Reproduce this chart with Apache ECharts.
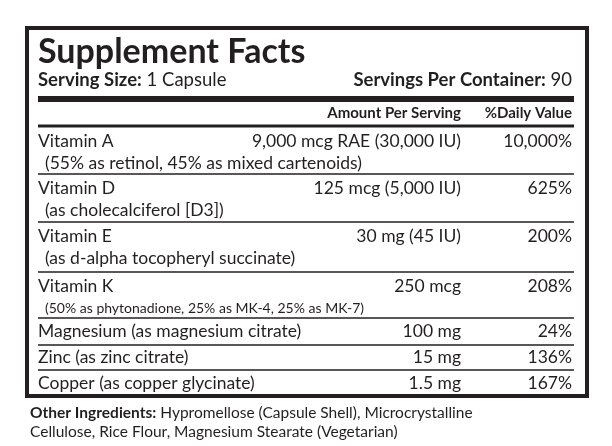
<!DOCTYPE html><html><head><meta charset="utf-8">
<script src="https://cdn.jsdelivr.net/npm/echarts@6/dist/echarts.min.js"></script>
<style>html,body{margin:0;background:#fff}#c{width:612px;height:446px}</style></head><body><div id="c"></div>
<script>
const title = "Supplement Facts";
const servingSize = ["Serving Size:", " 1 Capsule"];
const servingsPer = ["Servings Per Container:", " 90"];
const headers = ["Amount Per Serving", "%Daily Value"];
const nutrients = ["Vitamin A", "Vitamin D", "Vitamin E", "Vitamin K", "Magnesium (as magnesium citrate)", "Zinc (as zinc citrate)", "Copper (as copper glycinate)"];
const subtexts = ["(55% as retinol, 45% as mixed cartenoids)", "(as cholecalciferol [D3])", "(as d-alpha tocopheryl succinate)", "(50% as phytonadione, 25% as MK-4, 25% as MK-7)", "", "", ""];
const amounts = ["9,000 mcg RAE (30,000 IU)", "125 mcg (5,000 IU)", "30 mg (45 IU)", "250 mcg", "100 mg", "15 mg", "1.5 mg"];
const dailyValues = ["10,000%", "625%", "200%", "208%", "24%", "136%", "167%"];
const otherIngredients = ["Other Ingredients:", " Hypromellose (Capsule Shell), Microcrystalline", "Cellulose, Rice Flour, Magnesium Stearate (Vegetarian)"];

const F = 'Lato, "Open Sans", sans-serif', C = '#231f20';
const L = 38, R = 572, AR = 461;
const g = [];
function t(x, y, s, o) { g.push(Object.assign({type:'text', x, y, style:Object.assign({text:s, fill:C, font:'17.5px '+F, textVerticalAlign:'middle'}, o||{})})); }
function rt(x, y, parts, sz, o) { g.push({type:'text', x, y, style:Object.assign({rich:{b:{fontWeight:'bold', fontSize:sz, fontFamily:F, fill:C}, n:{fontSize:sz, fontFamily:F, fill:C}}, text:parts, textVerticalAlign:'middle'}, o||{})}); }
function line(y, w) { g.push({type:'rect', shape:{x:L, y:y - w/2, width:R - L + 2, height:w}, style:{fill:C}}); }
g.push({type:'rect', shape:{x:27, y:28, width:560, height:368}, style:{fill:'#fff', stroke:C, lineWidth:4}});
t(L, 52, title, {font:'bold 34px '+F});
rt(L, 80, '{b|'+servingSize[0]+'}{n|'+servingSize[1]+'}', 18.5);
rt(R, 80, '{b|'+servingsPer[0]+'}{n|'+servingsPer[1]+'}', 18.5, {textAlign:'right'});
line(99, 6);
t(AR, 113, headers[0], {font:'bold 15px '+F, textAlign:'right'});
t(R, 113, headers[1], {font:'bold 15px '+F, textAlign:'right'});
line(126, 3);
const rowTop = [127, 174, 222, 272, 318, 345, 370];
const rowH = [47, 48, 50, 46, 27, 25, 26];
nutrients.forEach((n, i) => {
  const y = subtexts[i] ? rowTop[i] + 14 : rowTop[i] + rowH[i]/2;
  t(L, y, n);
  t(AR, y, amounts[i], {textAlign:'right'});
  t(R, y, dailyValues[i], {textAlign:'right'});
  if (subtexts[i]) t(L + 7, y + 22, subtexts[i], {font:(i===3?'14px ':'17.5px ')+F});
  if (i < nutrients.length - 1) line(rowTop[i] + rowH[i], 1.5);
});
rt(30, 413, '{b|'+otherIngredients[0]+'}{n|'+otherIngredients[1]+'}', 15.5);
t(30, 432, otherIngredients[2], {font:'15.5px '+F});
const chart = echarts.init(document.getElementById('c'));
chart.setOption({animation:false, graphic:{elements:g}});
</script></body></html>
